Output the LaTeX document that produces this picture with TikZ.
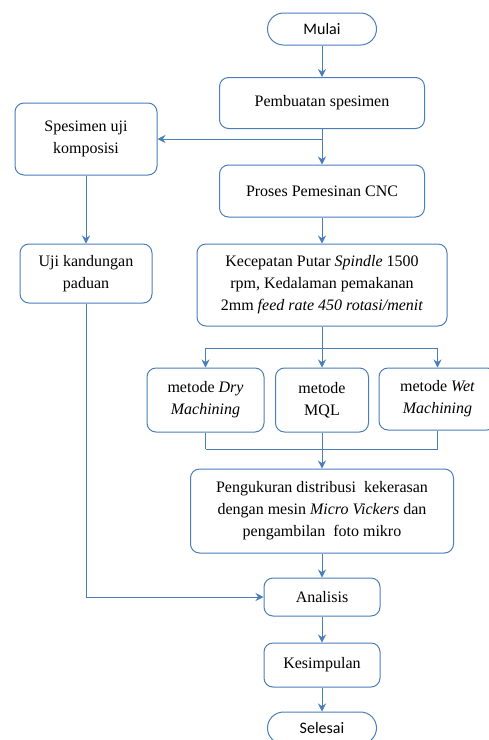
\documentclass[tikz,border=0pt]{standalone}
\usepackage{fontspec}
\setmainfont{Liberation Serif}
\newfontfamily\calibri{Carlito}
\usepackage{xcolor}
\definecolor{flowblue}{RGB}{74,126,187}
\usetikzlibrary{arrows.meta}

\begin{document}
\begin{tikzpicture}[x=1pt,y=-1pt,
  box/.style={rectangle,rounded corners=9pt,draw=flowblue,line width=1pt,
              inner sep=0pt,align=center,font=\fontsize{16}{22}\selectfont},
  term/.style={box,rounded corners=16pt,font=\calibri\fontsize{16}{19}\selectfont},
  arr/.style={draw=flowblue,line width=1pt,-{Stealth[length=8pt,width=8pt]}},
  ln/.style={draw=flowblue,line width=1pt},
]
  \useasboundingbox (0,0) rectangle (489,740);

  \node[term,minimum width=109pt,minimum height=32pt](mulai) at (322,29) {Mulai};
  \node[box,minimum width=205pt,minimum height=51pt](buat) at (322,103) {Pembuatan spesimen};
  \node[box,minimum width=142pt,minimum height=72pt](komp) at (86,139) {Spesimen uji\\komposisi};
  \node[box,minimum width=205pt,minimum height=52pt](cnc) at (322,191) {Proses Pemesinan CNC};
  \node[box,minimum width=250pt,minimum height=82pt](param) at (322,285) {%
    Kecepatan Putar \textit{Spindle} 1500\\
    rpm, Kedalaman pemakanan\\
    2mm \textit{feed rate 450 rotasi/menit}};
  \node[box,minimum width=132pt,minimum height=59pt](paduan) at (86,273.5) {Uji kandungan\\paduan};

  \node[box,minimum width=117pt,minimum height=64pt](dry) at (205.5,400) {metode \textit{Dry}\\\textit{Machining}};
  \node[box,minimum width=93pt,minimum height=64pt](mql) at (322,400) {metode\\MQL};
  \node[box,minimum width=117pt,minimum height=62pt](wet) at (437.5,399) {metode \textit{Wet}\\\textit{Machining}};

  \node[box,minimum width=263pt,minimum height=84pt](ukur) at (322,511) {%
    Pengukuran distribusi\ \ kekerasan\\
    dengan mesin \textit{Micro Vickers} dan\\
    pengambilan\ \ foto mikro};
  \node[box,minimum width=116pt,minimum height=38pt](anal) at (322,597) {Analisis};
  \node[box,minimum width=116pt,minimum height=44pt](simp) at (322,665) {Kesimpulan};
  \node[term,minimum width=109pt,minimum height=32pt](selesai) at (322,728) {Selesai};

  \coordinate (split) at (322,348);
  \coordinate (join) at (322,449);

  \draw[arr] (mulai) -- (buat);
  \draw[arr] (buat) -- (cnc);
  \draw[arr] (buat.south |- komp.east) -- (komp.east);
  \draw[arr] (komp) -- (paduan);
  \draw[arr] (cnc) -- (param);

  \draw[ln] (param) -- (split);
  \draw[ln] (dry.north |- split) -- (wet.north |- split);
  \foreach \n in {dry,mql,wet}{%
    \draw[arr] (\n.north |- split) -- (\n.north);
    \draw[ln] (\n.south) -- (\n.south |- join);}
  \draw[ln] (dry.south |- join) -- (wet.south |- join);
  \draw[arr] (join) -- (ukur);

  \draw[arr] (ukur) -- (anal);
  \draw[arr] (paduan.south) |- (anal.west);
  \draw[arr] (anal) -- (simp);
  \draw[arr] (simp) -- (selesai);
\end{tikzpicture}
\end{document}
